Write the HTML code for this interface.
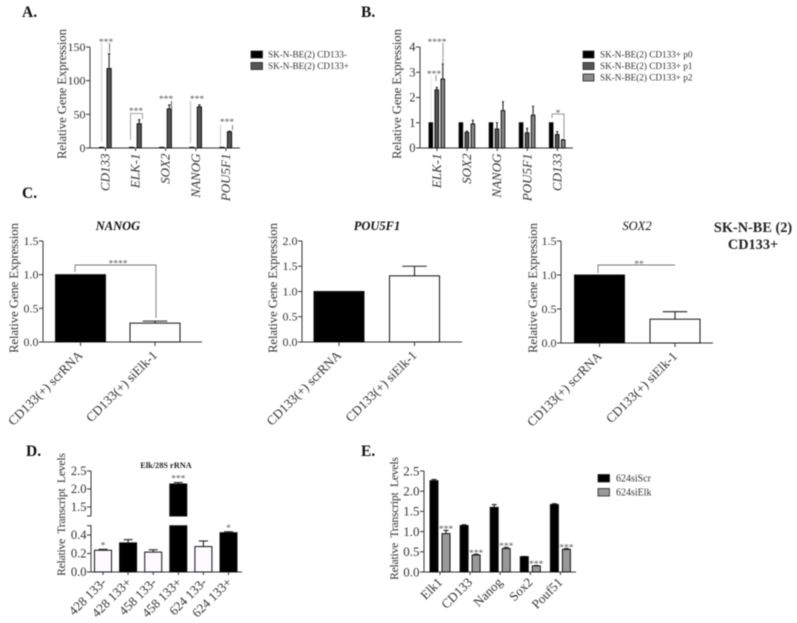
<!DOCTYPE html>
<html>
<head>
<meta charset="utf-8">
<title>Relative gene expression figure</title>
<style>
html,body{margin:0;padding:0;background:#fff;}
svg{display:block;filter:blur(0.55px);font-family:"Liberation Serif",serif;}
</style>
</head>
<body>
<svg id="fig" xmlns="http://www.w3.org/2000/svg" width="797" height="623" viewBox="0 0 797 623"></svg>
<script>
// Panel A data
const aCategories = ['CD133', 'ELK-1', 'SOX2', 'NANOG', 'POU5F1'];
const aTicks = [0, 50, 100, 150];
const aNeg = [1, 1, 1, 1, 1];
const aPos = [118, 36, 58, 61, 24];
const aPosErr = [22, 6, 6, 3, 1];
// Panel B data
const bCategories = ['ELK-1', 'SOX2', 'NANOG', 'POU5F1', 'CD133'];
const bTicks = [0, 1, 2, 3, 4];
const bP0 = [1, 1, 1, 1, 1];
const bP1 = [2.3, 0.62, 0.75, 0.6, 0.53];
const bP1Err = [0.1, 0.05, 0.25, 0.18, 0.12];
const bP2 = [2.73, 0.95, 1.48, 1.3, 0.32];
const bP2Err = [0.6, 0.15, 0.35, 0.35, 0.02];
// Panel C data
const cCategories = ['CD133(+) scrRNA', 'CD133(+) siElk-1'];
const cTicks15 = ['0.0', '0.5', '1.0', '1.5'];
const cTicks20 = ['0.0', '0.5', '1.0', '1.5', '2.0'];
const nanogValues = [1, 0.28];
const nanogErr = [0, 0.03];
const pouValues = [1, 1.31];
const pouErr = [0, 0.19];
const soxValues = [1, 0.35];
const soxErr = [0, 0.11];
// Panel D data
const dCategories = ['428 133-', '428 133+', '458 133-', '458 133+', '624 133-', '624 133+'];
const dValues = [0.235, 0.315, 0.215, 2.14, 0.275, 0.425];
const dErr = [0.01, 0.035, 0.025, 0.04, 0.06, 0.01];
const dStars = ['*', '', '', '***', '', '*'];
const dLowTicks = ['0.0', '0.2', '0.4'];
const dHighTicks = ['1.5', '2.0', '2.5'];
// Panel E data
const eCategories = ['Elk1', 'CD133', 'Nanog', 'Sox2', 'Pouf51'];
const eTicks = ['0.0', '0.5', '1.0', '1.5', '2.0', '2.5'];
const eScr = [2.26, 1.15, 1.6, 0.38, 1.67];
const eScrErr = [0.03, 0.02, 0.07, 0.005, 0.02];
const eElk = [0.95, 0.42, 0.58, 0.15, 0.56];
const eElkErr = [0.08, 0.02, 0.03, 0.01, 0.02];

const svg = document.getElementById('fig');
const NS = 'http://www.w3.org/2000/svg';
const AXIS = '#333';

function mk(tag, attrs, parent, name) {
  const el = document.createElementNS(NS, tag);
  for (const k in attrs) el.setAttribute(k, attrs[k]);
  
  
  parent.appendChild(el);
  return el;
}
function txt(s, attrs, parent, name) {
  const el = mk('text', attrs, parent, name);
  el.textContent = s;
  return el;
}
function panel(name) { return mk('g', {}, svg, name); }
function line(x1, y1, x2, y2, color, w, parent, name) {
  return mk('line', {x1: x1, y1: y1, x2: x2, y2: y2, stroke: color, 'stroke-width': w}, parent, name);
}
function linear(v0, px0, v1, px1) {
  return function (v) { return px0 + (v - v0) * (px1 - px0) / (v1 - v0); };
}
function yTicks(ticks, y, xAxis, size, parent, prefix) {
  ticks.forEach(function (t) {
    const v = parseFloat(t);
    line(xAxis - 4, y(v), xAxis, y(v), AXIS, 1, parent, prefix + '-y-tick-' + t);
    txt(String(t), {x: xAxis - 4.5, y: y(v) + size * 0.33, 'text-anchor': 'end', 'font-size': size, fill: '#333'}, parent, prefix + '-y-tick-label-' + t);
  });
}
function yTitle(s, x, mid, len, size, parent, name) {
  txt(s, {transform: 'translate(' + x + ',' + mid + ') rotate(-90)', 'text-anchor': 'middle', 'font-size': size, fill: '#333', textLength: len, lengthAdjust: 'spacing', style: 'white-space:pre'}, parent, name);
}
function bar(x, w, top, base, fill, parent, name) {
  return mk('rect', {x: x, y: Math.min(top, base), width: w, height: Math.abs(base - top), fill: fill, stroke: '#111', 'stroke-width': 1}, parent, name);
}
function errBar(cx, top, errTop, cap, parent, name) {
  const g = mk('g', {}, parent, name);
  line(cx, top, cx, errTop, '#222', 1.1, g, name + '-stem');
  line(cx - cap / 2, errTop, cx + cap / 2, errTop, '#222', 1.1, g, name + '-cap');
}
function stars(s, cx, cy, parent, name) {
  txt(s, {x: cx, y: cy + 5.2, 'text-anchor': 'middle', 'font-size': 9.5, fill: '#555'}, parent, name);
}
function rotLabel(s, x, y, size, parent, name, italic, angle) {
  const a = {transform: 'translate(' + x + ',' + y + ') rotate(' + angle + ')', 'text-anchor': 'end', 'font-size': size, fill: '#333'};
  if (italic) a['font-style'] = 'italic';
  txt(s, a, parent, name);
}
function legend(entries, xs, swW, swH, ys, tx, size, parent, prefix) {
  entries.forEach(function (e, i) {
    const g = mk('g', {}, parent, prefix + '-entry-' + (i + 1));
    mk('rect', {x: xs, y: ys[i], width: swW, height: swH, fill: e[1], stroke: '#222', 'stroke-width': 0.8}, g, prefix + '-swatch-' + (i + 1));
    txt(e[0], {x: tx, y: ys[i] + swH - 0.5, 'font-size': size, fill: '#333'}, g, prefix + '-label-' + (i + 1));
  });
}
function letter(s, x, y) {
  txt(s, {x: x, y: y, 'font-size': 15.5, 'font-weight': 'bold', fill: '#111'}, svg, 'panel-letter-' + s.charAt(0).toLowerCase());
}

letter('A.', 22, 17);
letter('B.', 361, 17);
letter('C.', 22, 198);
letter('D.', 26, 456);
letter('E.', 361, 456);

/* ---------- Panel A ---------- */
(function () {
  const p = panel('panel-a');
  const y = linear(0, 148, 150, 47);
  const xc = function (i) { return 105.5 + i * 30.1; };
  line(90, 47, 90, 148.5, AXIS, 1, p, 'a-y-axis');
  line(86, 148, 240, 148, AXIS, 1, p, 'a-x-axis');
  yTicks(aTicks, y, 90, 12, p, 'a');
  yTitle('Relative Gene Expression', 66, 94, 130, 12.8, p, 'a-y-axis-title');
  aCategories.forEach(function (c, i) {
    const n = c.toLowerCase();
    bar(xc(i) - 6, 4.2, y(aNeg[i]), y(0), '#000', p, 'a-bar-' + n + '-cd133-neg');
    bar(xc(i) + 1.5, 4.2, y(aPos[i]), y(0), '#555', p, 'a-bar-' + n + '-cd133-pos');
    errBar(xc(i) + 3.6, y(aPos[i]), y(aPos[i] + aPosErr[i]), 2.5, p, 'a-error-' + n);
    line(xc(i), 148, xc(i), 151, AXIS, 1, p, 'a-x-tick-' + n);
    rotLabel(c, xc(i) + 4, 153.5, 13, p, 'a-x-label-' + n, true, -90);
  });
  const g = mk('g', {fill: 'none'}, p, 'a-significance');
  line(101.7, 43, 101.7, 142, '#ccc', 1, g, 'a-sig-cd133-left');
  line(109.5, 43, 109.5, 52, '#555', 0.8, g, 'a-sig-cd133-right');
  stars('***', 106, 40, g, 'a-stars-cd133');
  mk('path', {d: 'M130.5 140V113.5H142.5V119', stroke: '#888', 'stroke-width': 0.8, fill: 'none'}, g, 'a-sig-elk1-bracket');
  stars('***', 136, 109, g, 'a-stars-elk1');
  line(171.5, 101, 171.5, 110, '#444', 0.8, g, 'a-sig-sox2-right');
  stars('***', 166, 97, g, 'a-stars-sox2');
  line(190.5, 101, 190.5, 143, '#bbb', 1, g, 'a-sig-nanog-left');
  stars('***', 197, 97, g, 'a-stars-nanog');
  line(220.5, 125, 220.5, 146, '#bbb', 0.8, g, 'a-sig-pou5f1-left');
  line(232.5, 125, 232.5, 130, '#666', 0.8, g, 'a-sig-pou5f1-right');
  stars('***', 227, 120, g, 'a-stars-pou5f1');
  legend([['SK-N-BE(2) CD133-', '#000'], ['SK-N-BE(2) CD133+', '#555']], 251, 11.5, 7, [51, 62.5], 268, 9.2, p, 'a-legend');
})();

/* ---------- Panel B ---------- */
(function () {
  const p = panel('panel-b');
  const y = linear(0, 148, 4, 47);
  const xc = function (i) { return 437 + i * 30.1; };
  line(420, 47, 420, 148.5, AXIS, 1, p, 'b-y-axis');
  line(416, 148, 573, 148, AXIS, 1, p, 'b-x-axis');
  yTicks(bTicks, y, 420, 12.5, p, 'b');
  yTitle('Relative Gene Expression', 401, 94, 130, 12.8, p, 'b-y-axis-title');
  bCategories.forEach(function (c, i) {
    const n = c.toLowerCase();
    bar(xc(i) - 8, 3.6, y(bP0[i]), y(0), '#000', p, 'b-bar-' + n + '-p0');
    bar(xc(i) - 2, 3.6, y(bP1[i]), y(0), '#555', p, 'b-bar-' + n + '-p1');
    bar(xc(i) + 4, 3.6, y(bP2[i]), y(0), '#8a8a8a', p, 'b-bar-' + n + '-p2');
    errBar(xc(i) - 0.2, y(bP1[i]), y(bP1[i] + bP1Err[i]), 2, p, 'b-error-' + n + '-p1');
    errBar(xc(i) + 5.8, y(bP2[i]), y(bP2[i] + bP2Err[i]), 2, p, 'b-error-' + n + '-p2');
    line(xc(i), 148, xc(i), 151, AXIS, 1, p, 'b-x-tick-' + n);
    rotLabel(c, xc(i) + 4, 153.5, 13, p, 'b-x-label-' + n, true, -90);
  });
  const g = mk('g', {}, p, 'b-significance');
  stars('****', 437, 40, g, 'b-stars-elk1-p2');
  line(443, 43, 443, 64, '#888', 0.9, g, 'b-sig-elk1-p2');
  stars('***', 434, 72, g, 'b-stars-elk1-p1');
  line(436, 75, 436, 81, '#888', 0.9, g, 'b-sig-elk1-p1');
  line(431, 76, 431, 122, '#ddd', 0.7, g, 'b-sig-elk1-left');
  stars('*', 558, 111, g, 'b-stars-cd133');
  mk('path', {d: 'M552 118V114H564V138', stroke: '#777', 'stroke-width': 0.8, fill: 'none'}, g, 'b-sig-cd133-bracket');
  legend([['SK-N-BE(2) CD133+ p0', '#000'], ['SK-N-BE(2) CD133+ p1', '#555'], ['SK-N-BE(2) CD133+ p2', '#8a8a8a']], 583, 11, 7, [51, 62.5, 74], 600, 9.2, p, 'b-legend');
})();

/* ---------- Panel C ---------- */
function cPanel(opts) {
  const p = panel(opts.name);
  const y = linear(0, opts.base, opts.top, 241);
  const xc = [opts.x1, opts.x2];
  line(opts.ax, 241, opts.ax, opts.base + 0.5, AXIS, 1, p, opts.name + '-y-axis');
  line(opts.ax - 4, opts.base, opts.axEnd, opts.base, AXIS, 1, p, opts.name + '-x-axis');
  yTicks(opts.ticks, y, opts.ax, 12, p, opts.name);
  yTitle('Relative Gene Expression', opts.titleX, 288, 130, 12.8, p, opts.name + '-y-axis-title');
  txt(opts.title, {x: opts.titleC, y: 230, 'text-anchor': 'middle', 'font-size': 12.5, 'font-style': 'italic', 'font-weight': opts.bold ? 'bold' : 'normal', fill: '#111'}, p, opts.name + '-title');
  cCategories.forEach(function (c, i) {
    const n = i === 0 ? 'scrrna' : 'sielk1';
    if (opts.err[i] > 0) errBar(xc[i], y(opts.vals[i]), y(opts.vals[i] + opts.err[i]), 24.5, p, opts.name + '-error-' + n);
    bar(xc[i] - 25, 50, y(opts.vals[i]), y(0), i === 0 ? '#000' : '#fff', p, opts.name + '-bar-' + n);
    line(xc[i], opts.base, xc[i], opts.base + 4, AXIS, 1, p, opts.name + '-x-tick-' + n);
    rotLabel(c, xc[i] + 3, opts.base + 14, 13, p, opts.name + '-x-label-' + n, false, -45);
  });
  return p;
}
(function () {
  const a = cPanel({name: 'c-nanog', title: 'NANOG', titleC: 118, bold: true, ax: 43, axEnd: 202, base: 342, top: 1.5, ticks: cTicks15, titleX: 18, x1: 80.5, x2: 155, vals: nanogValues, err: nanogErr});
  mk('path', {d: 'M75 272V265H156V318', stroke: '#777', 'stroke-width': 0.9, fill: 'none'}, a, 'c-nanog-sig-bracket');
  stars('****', 118, 261.5, a, 'c-nanog-stars');
  cPanel({name: 'c-pou5f1', title: 'POU5F1', titleC: 377, bold: true, ax: 302, axEnd: 462, base: 342, top: 2, ticks: cTicks20, titleX: 277, x1: 339, x2: 414.5, vals: pouValues, err: pouErr});
  const c = cPanel({name: 'c-sox2', title: 'SOX2', titleC: 637, bold: false, ax: 561, axEnd: 713, base: 343, top: 1.5, ticks: cTicks15, titleX: 537, x1: 599.5, x2: 675, vals: soxValues, err: soxErr});
  mk('path', {d: 'M598 273V265H675', stroke: '#777', 'stroke-width': 0.9, fill: 'none'}, c, 'c-sox2-sig-bracket');
  stars('**', 639, 262, c, 'c-sox2-stars');
  txt('SK-N-BE (2)', {x: 753, y: 232, 'text-anchor': 'middle', 'font-size': 14.3, 'font-weight': 'bold', fill: '#222'}, svg, 'cell-line-label');
  txt('CD133+', {x: 753, y: 249, 'text-anchor': 'middle', 'font-size': 14.3, 'font-weight': 'bold', fill: '#222'}, svg, 'cell-line-sublabel');
})();

/* ---------- Panel D (broken axis) ---------- */
(function () {
  const p = panel('panel-d');
  const low = linear(0, 572, 0.4, 535);
  const high = linear(1.5, 507, 2.5, 471);
  const breakLow = 0.5, breakHigh = 1.25;
  const y = function (v) { return v <= breakLow ? low(v) : high(Math.max(v, breakHigh)); };
  const xc = function (i) { return 103 + i * 25.1; };
  line(91, 525, 91, 572.5, AXIS, 1, p, 'd-y-axis-lower');
  line(91, 471, 91, high(breakHigh), AXIS, 1, p, 'd-y-axis-upper');
  line(87, low(breakLow), 91, low(breakLow), AXIS, 1, p, 'd-y-break-lower');
  line(87, high(breakHigh), 91, high(breakHigh), AXIS, 1, p, 'd-y-break-upper');
  line(87, 572, 242, 572, AXIS, 1, p, 'd-x-axis');
  yTicks(dLowTicks, low, 91, 12.5, p, 'd-low');
  yTicks(dHighTicks, high, 91, 12.5, p, 'd-high');
  yTitle('Relative  Transcript  Levels', 65, 514.5, 123, 11.8, p, 'd-y-axis-title');
  txt('Elk/28S rRNA', {x: 166, y: 468, 'text-anchor': 'middle', 'font-size': 8.3, 'font-weight': 'bold', fill: '#222'}, p, 'd-title');
  dCategories.forEach(function (c, i) {
    const n = c.replace(' ', '-').replace('+', 'pos').toLowerCase();
    const v = dValues[i];
    const fill = i % 2 === 0 ? '#fdfbff' : '#000';
    errBar(xc(i), y(v), y(v + dErr[i]), 9, p, 'd-error-' + n);
    if (v > breakLow) {
      bar(xc(i) - 8.5, 17, low(breakLow), 572, fill, p, 'd-bar-' + n + '-lower');
      bar(xc(i) - 8.5, 17, y(v), high(breakHigh), fill, p, 'd-bar-' + n + '-upper');
    } else {
      bar(xc(i) - 8.5, 17, y(v), 572, fill, p, 'd-bar-' + n);
    }
    line(xc(i), 572, xc(i), 575, AXIS, 1, p, 'd-x-tick-' + n);
    rotLabel(c, xc(i) + 4, 583, 13, p, 'd-x-label-' + n, false, -45);
    if (dStars[i]) stars(dStars[i], xc(i), y(v + dErr[i]) - 6, p, 'd-stars-' + n);
  });
})();

/* ---------- Panel E ---------- */
(function () {
  const p = panel('panel-e');
  const y = linear(0, 572, 2.5, 471);
  const xc = function (i) { return 440 + i * 30.1; };
  line(424, 471, 424, 572.5, AXIS, 1, p, 'e-y-axis');
  line(420, 572, 576, 572, AXIS, 1, p, 'e-x-axis');
  yTicks(eTicks, y, 424, 13, p, 'e');
  yTitle('Relative  Transcript  Levels', 398, 518.5, 123, 11.8, p, 'e-y-axis-title');
  eCategories.forEach(function (c, i) {
    const n = c.toLowerCase();
    errBar(xc(i) - 6, y(eScr[i]), y(eScr[i] + eScrErr[i]), 5, p, 'e-error-' + n + '-scr');
    errBar(xc(i) + 6, y(eElk[i]), y(eElk[i] + eElkErr[i]), 5, p, 'e-error-' + n + '-elk');
    bar(xc(i) - 10, 8, y(eScr[i]), y(0), '#000', p, 'e-bar-' + n + '-scr');
    bar(xc(i) + 2, 8, y(eElk[i]), y(0), '#999', p, 'e-bar-' + n + '-elk');
    line(xc(i), 572, xc(i), 575, AXIS, 1, p, 'e-x-tick-' + n);
    rotLabel(c, xc(i) + 3, 583, 13, p, 'e-x-label-' + n, false, -45);
    stars('***', xc(i) + 6, y(eElk[i] + eElkErr[i]) - 3.5, p, 'e-stars-' + n);
  });
  legend([['624siScr', '#000'], ['624siElk', '#999']], 598, 11.5, 7.5, [474.5, 488.5], 616, 10, p, 'e-legend');
})();
</script>
</body>
</html>
